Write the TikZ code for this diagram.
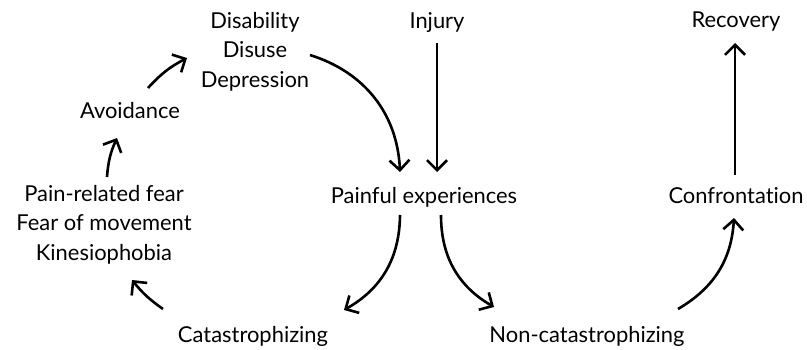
\documentclass[tikz,border=0pt]{standalone}
\usepackage{fontspec}
\setmainfont{Lato}[Ligatures={NoCommon}]
\usetikzlibrary{arrows.meta}
\begin{document}
\begin{tikzpicture}[x=1bp,y=1bp,
  lbl/.style={font=\fontsize{22}{29.5}\selectfont, align=center, inner sep=0pt, anchor=base},
  flow/.style={line width=2.6bp, -{Straight Barb[length=10bp,width=20bp,line width=2.6bp]}}]
\useasboundingbox (0,0) rectangle (807,349);
% labels (the base of a multi-line label is its last line)
\node[lbl] (dis)  at (255,262) {Disability\\Disuse\\Depression};
\node[lbl] (inj)  at (437,321) {Injury};
\node[lbl] (rec)  at (736,322) {Recovery};
\node[lbl] (avo)  at (130,231) {Avoidance};
\node[lbl] (fear) at (104,89)  {Pain-related fear\\Fear of movement\\Kinesiophobia};
\node[lbl] (pain) at (424,146) {Painful experiences};
\node[lbl] (conf) at (736,146) {Confrontation};
\node[lbl] (cat)  at (253,7)   {Catastrophizing};
\node[lbl] (non)  at (587,7)   {Non-catastrophizing};
% connectors
\draw[flow] ([shift={(0,-15)}]inj.base) -- ([shift={(13,31)}]pain.base);
\draw[flow] ([shift={(-1,28)}]conf.base) -- ([shift={(-1,-16)}]rec.base);
\draw[flow] ([shift={(55,32)}]dis.base) to[bend left=35] ([shift={(-24,31)}]pain.base);
\draw[flow] ([shift={(18,30)}]avo.base) to[bend left=10] ([shift={(-68,29)}]dis.base);
\draw[flow] ([shift={(3,83)}]fear.base) to[bend left=10] ([shift={(-13,-20)}]avo.base);
\draw[flow] ([shift={(-90,33)}]cat.base) to[bend left=8] ([shift={(28,-20)}]fear.base);
\draw[flow] ([shift={(-24,-12)}]pain.base) to[bend left=30] ([shift={(91,32)}]cat.base);
\draw[flow] ([shift={(17,-12)}]pain.base) to[bend right=30] ([shift={(-93,35)}]non.base);
\draw[flow] ([shift={(91,33)}]non.base) to[bend right=28] ([shift={(-2,-15)}]conf.base);
\end{tikzpicture}
\end{document}
